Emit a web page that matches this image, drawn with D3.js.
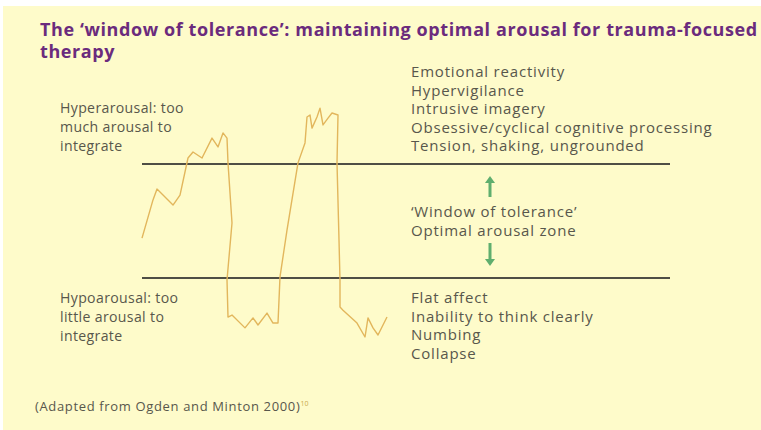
<!DOCTYPE html>
<html lang="en">
<head>
    <meta charset="UTF-8">
    <title>Window of tolerance</title>
    <style>
        body { margin: 0; background: #ffffff; }
        svg text { font-family: "Open Sans", "Noto Sans", sans-serif; }
    </style>
</head>
<body>
<div id="chart"></div>

<script src="https://d3js.org/d3.v7.min.js"></script>

<script>
    // arousal trace: time (arbitrary units) vs arousal level (30 = lower bound, 70 = upper bound)
    var traceTime = [0, 11, 15, 31, 38, 46, 51, 60, 70, 76, 81, 85, 86, 90, 85, 86, 90, 103, 111, 116, 125, 131, 136,
        138, 145, 156, 163, 165, 168, 170, 175, 178, 181, 186, 190, 196, 195, 197, 198, 198, 201, 215, 223, 226, 231, 236, 245];
    var traceLevel = [44.0, 57.4, 61.2, 55.6, 59.1, 72.1, 74.2, 72.1, 79.1, 76.0, 80.9, 79.1, 70.4, 49.3, 29.3, 16.3, 17.0,
        12.5, 16.0, 13.5, 17.7, 14.2, 14.2, 30.4, 46.8, 70.4, 77.4, 86.5, 87.2, 82.6, 86.5, 89.6, 83.7, 86.1, 87.9, 87.2,
        70.4, 43.3, 29.3, 19.8, 18.7, 14.2, 9.3, 16.0, 12.5, 10.0, 16.3];

    var upperBound = 70;
    var lowerBound = 30;

    var titleLines = ["The \u2018window of tolerance\u2019:  maintaining optimal arousal for trauma-focused", "therapy"];
    var hyperSigns = ["Emotional reactivity", "Hypervigilance", "Intrusive imagery",
        "Obsessive/cyclical cognitive processing", "Tension, shaking, ungrounded"];
    var windowText = ["\u2018Window of tolerance\u2019", "Optimal arousal zone"];
    var hypoSigns = ["Flat affect", "Inability to think clearly", "Numbing", "Collapse"];
    var hyperLabel = ["Hyperarousal: too", "much arousal to", "integrate"];
    var hypoLabel = ["Hypoarousal: too", "little arousal to", "integrate"];
    var sourceNote = "(Adapted from Ogden and Minton 2000)";
    var sourceRef = "10";

    var width = 761, height = 430;
    var textColor = "#58574c";

    var svg = d3.select("#chart").append("svg")
        .attr("width", width)
        .attr("height", height);

    // pale yellow panel
    svg.append("rect")
        .attr("x", 3).attr("y", 6)
        .attr("width", width - 3).attr("height", height - 6)
        .attr("fill", "#fefbca");

    var x = d3.scaleLinear().domain([0, 250]).range([142, 392]);
    var y = d3.scaleLinear().domain([0, 100]).range([363.5, 78.5]);

    // title
    svg.append("g").selectAll("text")
        .data(titleLines).enter()
        .append("text")
        .attr("x", 40)
        .attr("y", function (d, i) { return 36 + i * 22; })
        .attr("fill", "#6b2b7d")
        .attr("font-size", 18)
        .attr("font-weight", "bold")
        .attr("letter-spacing", 0.6)
        .text(function (d) { return d; });

    // boundary lines
    svg.append("g").selectAll("line")
        .data([upperBound, lowerBound]).enter()
        .append("line")
        .attr("x1", 142).attr("x2", 670)
        .attr("y1", function (d) { return y(d); })
        .attr("y2", function (d) { return y(d); })
        .attr("stroke", "#4f4e45")
        .attr("stroke-width", 2);

    // trace
    var pts = traceTime.map(function (t, i) { return [t, traceLevel[i]]; });
    svg.append("path")
        .datum(pts)
        .attr("fill", "none")
        .attr("stroke", "#e2b65c")
        .attr("stroke-width", 1.4)
        .attr("stroke-linejoin", "round")
        .attr("d", d3.line()
            .x(function (d) { return x(d[0]); })
            .y(function (d) { return y(d[1]); }));

    function block(lines, x0, y0, step, size, ls) {
        svg.append("g").selectAll("text")
            .data(lines).enter()
            .append("text")
            .attr("x", x0)
            .attr("y", function (d, i) { return y0 + i * step; })
            .attr("fill", textColor)
            .attr("font-size", size)
            .attr("letter-spacing", ls)
            .text(function (d) { return d; });
    }

    block(hyperSigns, 411, 77, 18.6, 15, 0.8);
    block(windowText, 411, 217, 18.6, 15, 0.8);
    block(hypoSigns, 411, 303, 18.6, 15, 0.8);
    block(hyperLabel, 60, 113, 19, 14.1, 0.35);
    block(hypoLabel, 60, 303, 19, 14.1, 0.35);

    // green arrows
    var green = "#5fae6e";
    var arrowX = 490;
    [[197, 176], [243, 266]].forEach(function (a) {
        var dir = a[1] < a[0] ? -1 : 1;
        svg.append("line")
            .attr("x1", arrowX).attr("x2", arrowX)
            .attr("y1", a[0]).attr("y2", a[1] - dir * 6)
            .attr("stroke", green).attr("stroke-width", 3);
        svg.append("path")
            .attr("d", "M" + (arrowX - 5) + "," + (a[1] - dir * 7) + "L" + (arrowX + 5) + "," + (a[1] - dir * 7) +
                "L" + arrowX + "," + a[1] + "Z")
            .attr("fill", green);
    });

    // source note
    var note = svg.append("text")
        .attr("x", 35).attr("y", 411)
        .attr("fill", textColor)
        .attr("font-size", 13)
        .attr("letter-spacing", 0.65)
        .text(sourceNote);
    note.append("tspan")
        .attr("dy", -5)
        .attr("font-size", 7)
        .attr("letter-spacing", 0)
        .attr("fill", "#c9a84e")
        .text(sourceRef);
</script>

</body>
</html>
